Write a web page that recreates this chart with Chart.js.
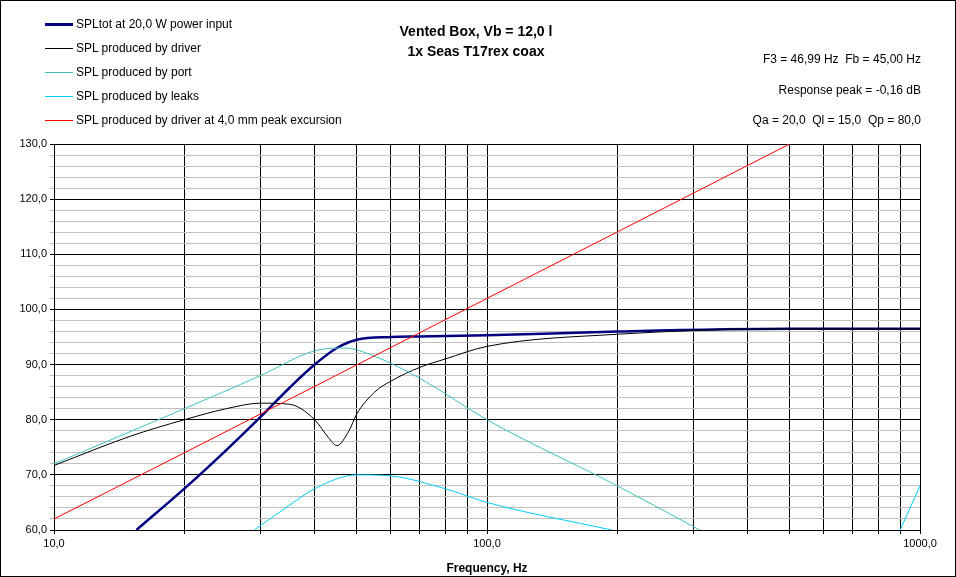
<!DOCTYPE html>
<html>
<head>
<meta charset="utf-8">
<script src="https://cdn.jsdelivr.net/npm/chart.js@4.4.0/dist/chart.umd.min.js"></script>
<style>
  body { margin: 0; background: #fff; font-family: "Liberation Sans", Arial, sans-serif; }
  #wrap { position: relative; width: 956px; height: 577px; box-sizing: border-box; border: 1px solid #000; }
  canvas { position: absolute; left: 0; top: 0; }
  .t { position: absolute; font-size: 12px; color: #000; white-space: nowrap; }
  .b { font-weight: bold; font-size: 14px; }
  .lg { position: absolute; left: 44px; width: 28px; height: 0; }
</style>
</head>
<body>
<div id="wrap">
  <canvas id="myChart" width="954" height="575"></canvas>
  <div class="lg" style="top:22px;border-top:3px solid #000080"></div>
  <div class="lg" style="top:47px;border-top:1px solid #000"></div>
  <div class="lg" style="top:71px;border-top:1px solid #40c0c0"></div>
  <div class="lg" style="top:95px;border-top:1px solid #00ccff"></div>
  <div class="lg" style="top:119px;border-top:1px solid #ff0000"></div>
  <div class="t" style="left:75px;top:16px">SPLtot at 20,0 W power input</div>
  <div class="t" style="left:75px;top:40px">SPL produced by driver</div>
  <div class="t" style="left:75px;top:64px">SPL produced by port</div>
  <div class="t" style="left:75px;top:88px">SPL produced by leaks</div>
  <div class="t" style="left:75px;top:112px">SPL produced by driver at 4,0 mm peak excursion</div>
  <div class="t b" style="left:375px;top:22px;width:200px;text-align:center">Vented Box, Vb = 12,0 l</div>
  <div class="t b" style="left:375px;top:42px;width:200px;text-align:center">1x Seas T17rex coax</div>
  <div class="t" style="right:34px;top:51px">F3 = 46,99 Hz&nbsp; Fb = 45,00 Hz</div>
  <div class="t" style="right:34px;top:82px">Response peak = -0,16 dB</div>
  <div class="t" style="right:34px;top:112px">Qa = 20,0&nbsp; Ql = 15,0&nbsp; Qp = 80,0</div>
</div>
<script>
// frequenze e valori
var fTot = [15.5, 20, 25, 30, 35, 40, 45, 50, 60, 70, 100, 200, 500, 1000];
var splTot = [60, 67.5, 74.5, 80.5, 85.8, 90, 93, 94.5, 95, 95.1, 95.3, 96, 96.5, 96.5];

var fDrv = [10, 15, 20, 25, 30, 35, 40, 43, 45, 48, 50, 55, 60, 70, 80, 100, 200, 500, 1000];
var splDrv = [71.7, 77, 80, 82, 83, 82.8, 80, 76.8, 75.3, 78, 81, 85, 87, 89.5, 91, 93.3, 95.5, 96.5, 96.5];

var fPort = [10, 20, 30, 40, 47, 55, 70, 100, 200, 310];
var splPort = [72, 82, 88, 92.5, 93, 91.5, 87.5, 80, 68, 60];

var fLeak = [29, 35, 40, 50, 60, 80, 100, 194];
var splLeak = [60, 64.5, 67.5, 70, 69.8, 67.5, 65, 60];
var fLeak2 = [900, 1000];
var splLeak2 = [60, 68];

var fExc = [10, 20, 100, 500];
var splExc = [62, 74, 102, 130];

var xTicks = [10, 20, 30, 40, 50, 60, 70, 80, 90, 100, 200, 300, 400, 500, 600, 700, 800, 900, 1000];
var xLabels = [10, 100, 1000];

function pts(f, v) {
  var out = [];
  for (var i = 0; i < f.length; i++) out.push({ x: f[i], y: v[i] });
  return out;
}
function serie(f, v, col, w) {
  return { data: pts(f, v), borderColor: col, borderWidth: w, pointRadius: 0,
           fill: false, cubicInterpolationMode: 'monotone' };
}

const ctx = document.getElementById('myChart');
new Chart(ctx, {
  type: 'line',
  data: {
    datasets: [
      serie(fExc, splExc, '#ff0000', 1),
      serie(fLeak, splLeak, '#00ccff', 1),
      serie(fLeak2, splLeak2, '#00ccff', 1),
      serie(fPort, splPort, '#40c0c0', 1),
      serie(fDrv, splDrv, '#000000', 1),
      serie(fTot, splTot, '#000080', 2.5)
    ]
  },
  options: {
    responsive: false,
    animation: false,
    layout: { padding: { top: 143, right: 35, left: 0, bottom: 0 } },
    plugins: { legend: { display: false }, tooltip: { enabled: false } },
    scales: {
      x: {
        type: 'logarithmic', min: 10, max: 1000,
        afterBuildTicks: function (s) { s.ticks = xTicks.map(function (v) { return { value: v }; }); },
        afterFit: function (s) { s.height = 46; },
        ticks: {
          autoSkip: false, maxRotation: 0, color: '#000', font: { size: 11 },
          callback: function (v) { return xLabels.indexOf(v) >= 0 ? v.toFixed(1).replace('.', ',') : ''; }
        },
        grid: { color: '#000', tickLength: 4 },
        border: { color: '#000' },
        title: { display: true, text: 'Frequency, Hz', color: '#000', font: { size: 12, weight: 'bold' }, padding: 0 }
      },
      y: {
        min: 60, max: 130,
        afterFit: function (s) { s.width = 53; },
        ticks: {
          stepSize: 2, autoSkip: false, color: '#000', font: { size: 11 },
          callback: function (v) { return v % 10 === 0 ? v.toFixed(1).replace('.', ',') : ''; }
        },
        grid: {
          tickLength: 4,
          color: function (c) { return c.tick && c.tick.value % 10 === 0 ? '#000' : '#c0c0c0'; }
        },
        border: { color: '#000' }
      }
    }
  }
});
</script>
</body>
</html>
